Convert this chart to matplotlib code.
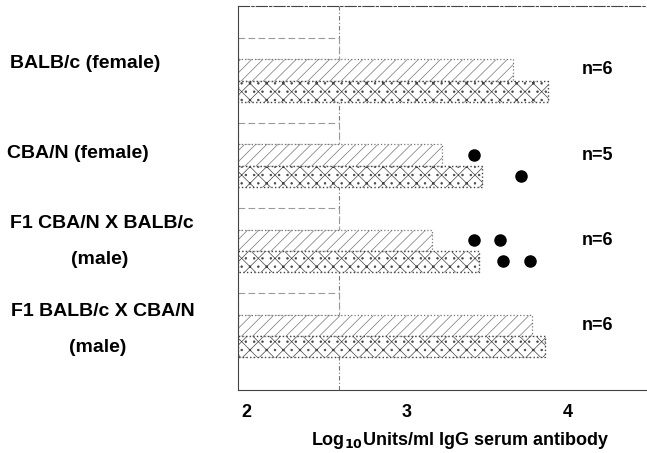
import matplotlib
matplotlib.use("Agg")
import matplotlib.pyplot as plt
import numpy as np

plt.rcParams['font.family'] = ['Liberation Sans', 'DejaVu Sans']
plt.rcParams['hatch.linewidth'] = 0.5

groups = ["BALB/c (female)", "CBA/N (female)", "F1 CBA/N X BALB/c\n(male)", "F1 BALB/c X CBA/N\n(male)"]
n_labels = ["n=6", "n=5", "n=6", "n=6"]
top_vals = [2.58, 2.58, 2.58, 2.58]
mid_vals = [3.66, 3.22, 3.16, 3.78]
bot_vals = [3.88, 3.47, 3.45, 3.86]
# individual outlier points: (group index, bar row: 0 mid, 1 bottom, value)
dot_group = [1, 1, 2, 2, 2, 2]
dot_row = [0, 1, 0, 0, 1, 1]
dot_vals = [3.42, 3.71, 3.42, 3.58, 3.60, 3.77]
xticks = [2, 3, 4]
ref_line = 2.58
x_min = 1.95

W, H = 647, 453
fig = plt.figure(figsize=(W/100, H/100), dpi=100)
ax = fig.add_axes([238/W, 1-390/H, (646-238)/W, (390-6)/H])

pos = np.arange(len(groups))
h = 0.25
ax.barh(pos - h, np.array(top_vals) - x_min, left=x_min, height=h, color='white',
        edgecolor='#999999', linewidth=0.8, linestyle=(0, (6, 3)))
ax.barh(pos, np.array(mid_vals) - x_min, left=x_min, height=h, color='white',
        edgecolor='#777777', linewidth=0.9, linestyle=':', hatch='///')
ax.barh(pos + h, np.array(bot_vals) - x_min, left=x_min, height=h, color='white',
        edgecolor='#444444', linewidth=1.0, linestyle=':', hatch='xx..')

dy = [0, h]
ax.plot(dot_vals, [dot_group[i] + dy[dot_row[i]] for i in range(len(dot_vals))],
        'o', color='black', markersize=8, linestyle='none', zorder=5)

ax.axvline(ref_line, color='#777777', linewidth=0.8, linestyle=(0, (4, 2, 1, 2)), zorder=0)

ax.set_xlim(x_min, 4.49)
ax.set_ylim(3.76, -0.75)
ax.set_xticks(xticks)
ax.set_xticklabels([str(t) for t in xticks], fontsize=13, fontweight='bold')
ax.tick_params(axis='x', length=0, pad=10)
ax.set_yticks([])
ax.spines['right'].set_visible(False)
for s in ['top', 'bottom', 'left']:
    ax.spines[s].set_linewidth(0.8)
    ax.spines[s].set_color('#444444')
ax.spines['top'].set_linestyle((0, (10, 2, 2, 2)))

ax.set_xlabel(r'Log$_{\mathbf{10}}$Units/ml IgG serum antibody', fontsize=13,
              fontweight='bold', labelpad=8)
ax.xaxis.set_label_coords(0.545, -0.105)

for i, nl in enumerate(n_labels):
    ax.text(4.19, pos[i], nl, fontsize=13, fontweight='bold', va='center', ha='center')

ax_lab = [
    (85, 63), (78, 153), (102, 223), (100, 260), (103, 312), (98, 347)
]
lines = ["BALB/c (female)", "CBA/N (female)",
         groups[2].split("\n")[0], groups[2].split("\n")[1],
         groups[3].split("\n")[0], groups[3].split("\n")[1]]
for (x, y), t in zip(ax_lab, lines):
    fig.text(x/W, 1-y/H, t, fontsize=14, fontweight='bold', ha='center', va='center')

fig.savefig('out.png', dpi=100)
